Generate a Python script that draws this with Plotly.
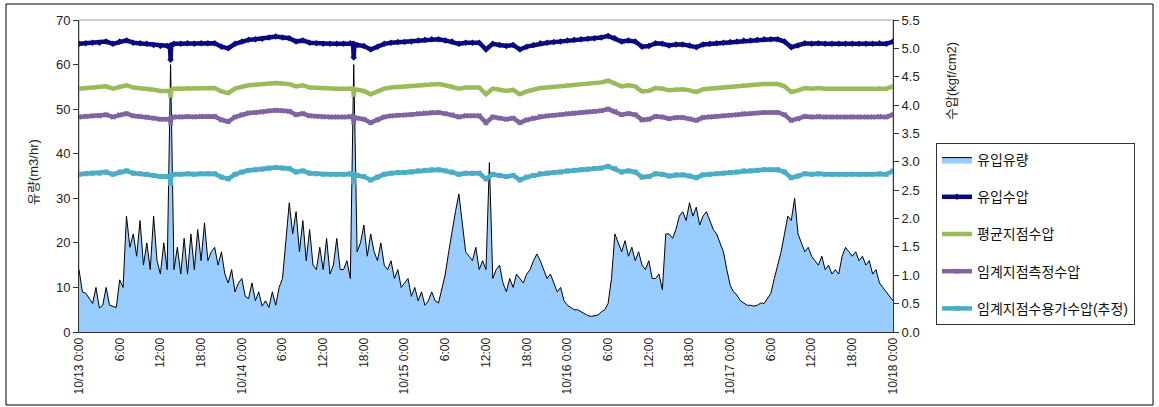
import pandas as pd
import plotly.graph_objects as go

# ---------------- data ----------------
start = pd.Timestamp("2009-10-13 00:00")

# flow (m3/hr), every 30 minutes from 10/13 0:00 to 10/18 0:00
flow_values = [
    14, 9, 8.7, 7.5, 6.4, 10, 5.4, 6, 10, 6, 5.8, 5.5, 11.7, 10, 26, 19, 22, 17, 25, 15,
    20, 14, 26, 16, 13, 20, 14, 60, 14, 19, 13, 21, 13, 22, 14, 23, 16, 24.5, 16, 18,
    19, 15, 18, 13, 11, 14, 9, 11, 12, 8, 7.5, 11, 7, 9, 5.8, 7, 5.5, 9, 6, 10,
    12, 21, 29, 22, 27, 18, 25, 16, 23, 15, 14, 19, 14, 21, 13, 15, 21, 14, 14, 16,
    12, 60, 18, 20, 24, 17, 22, 18, 16, 20, 15, 14, 16, 12, 14, 10, 11, 12, 8, 10,
    7, 9, 6, 7, 9, 7, 6.5, 10, 13, 18, 23, 27, 31, 24, 18, 17, 16, 19, 14, 16,
    14, 38, 12, 14, 15, 11, 9, 12, 10, 13, 12, 11, 13, 14, 16, 17.5, 16, 14, 12, 13,
    11, 9, 10, 7, 6, 5.5, 5, 5, 4.5, 4, 3.7, 3.5, 3.6, 3.8, 4.5, 5, 6.4, 12, 22, 20,
    18, 20.5, 17, 19, 16, 18, 15, 14, 16, 12, 12, 13, 9.5, 22, 22, 21, 23, 26, 27, 25,
    29, 26, 28, 24, 26, 27, 25, 23, 22, 20, 18, 14, 10.5, 9, 8.3, 7, 6.4, 6, 6, 5.8,
    6, 6.5, 6.4, 7.5, 8.7, 12, 15, 18, 22, 26, 25, 30, 22, 20, 18, 19, 17, 16, 15, 17,
    14, 15, 13, 14, 13, 17, 19, 18, 17, 18, 16, 17, 15, 16, 13, 14, 11, 10, 9, 8,
    7,
]
flow_hours = [i * 0.5 for i in range(len(flow_values))]

# pressures (kgf/cm2), hourly plus the two short dips
p_hours = (list(range(0, 14)) + [13.4, 13.5, 13.6] + list(range(14, 41))
           + [40.4, 40.5, 40.6] + list(range(41, 121)))

inlet_p = [
    5.08, 5.09, 5.10, 5.10, 5.12, 5.08, 5.12, 5.14, 5.10, 5.09, 5.08, 5.06, 5.04, 5.04,
    5.04, 4.80, 5.06,
    5.08, 5.08, 5.09, 5.08, 5.09, 5.09, 5.09, 5.03, 5.00, 5.08,
    5.12, 5.15, 5.16, 5.17, 5.19, 5.21, 5.19, 5.18, 5.12, 5.14,
    5.10, 5.09, 5.08, 5.08, 5.08, 5.08, 5.09,
    5.08, 4.84, 5.07,
    5.06, 5.04, 4.98, 5.03, 5.08, 5.10, 5.11, 5.11, 5.12, 5.14, 5.15, 5.16, 5.16, 5.14, 5.12, 5.08, 5.10, 5.10, 5.10,
    4.98, 5.08, 5.06, 5.04, 5.06, 4.98, 5.03, 5.06, 5.09, 5.10,
    5.11, 5.12, 5.14, 5.15, 5.16, 5.17, 5.18, 5.19, 5.22, 5.18,
    5.12, 5.14, 5.12, 5.03, 5.04, 5.09, 5.08, 5.05, 5.07, 5.07,
    5.05, 5.02, 5.07, 5.08, 5.09, 5.10, 5.11, 5.12, 5.14, 5.14,
    5.15, 5.16, 5.16, 5.16, 5.12, 5.02, 5.05, 5.09, 5.08, 5.09,
    5.08, 5.08, 5.08, 5.08, 5.08, 5.08, 5.08, 5.08, 5.09, 5.08,
    5.12,
]

avg_p = [
    4.29, 4.30, 4.31, 4.31, 4.33, 4.29, 4.33, 4.35, 4.31, 4.30, 4.29, 4.27, 4.25, 4.25,
    4.25, 4.15, 4.27,
    4.29, 4.29, 4.30, 4.29, 4.30, 4.30, 4.30, 4.24, 4.21, 4.29,
    4.33, 4.35, 4.36, 4.37, 4.38, 4.39, 4.38, 4.37, 4.33, 4.35,
    4.31, 4.30, 4.29, 4.29, 4.29, 4.29, 4.30,
    4.29, 4.17, 4.28,
    4.27, 4.25, 4.19, 4.24, 4.29, 4.31, 4.32, 4.32, 4.33, 4.35, 4.36, 4.37, 4.37, 4.35, 4.33, 4.29, 4.31, 4.31, 4.31,
    4.19, 4.29, 4.27, 4.25, 4.27, 4.19, 4.24, 4.27, 4.30, 4.31,
    4.32, 4.33, 4.35, 4.36, 4.37, 4.38, 4.39, 4.40, 4.43, 4.39,
    4.33, 4.35, 4.33, 4.24, 4.25, 4.30, 4.29, 4.26, 4.28, 4.28,
    4.26, 4.23, 4.28, 4.29, 4.30, 4.31, 4.32, 4.33, 4.35, 4.35,
    4.36, 4.37, 4.37, 4.37, 4.33, 4.23, 4.26, 4.30, 4.29, 4.30,
    4.29, 4.29, 4.29, 4.29, 4.29, 4.29, 4.29, 4.29, 4.30, 4.29,
    4.33,
]

crit_meas_p = [
    3.79, 3.80, 3.81, 3.81, 3.83, 3.79, 3.83, 3.85, 3.81, 3.80, 3.79, 3.77, 3.75, 3.75,
    3.75, 3.68, 3.77,
    3.79, 3.79, 3.80, 3.79, 3.80, 3.80, 3.80, 3.74, 3.71, 3.79,
    3.83, 3.86, 3.87, 3.88, 3.90, 3.91, 3.90, 3.89, 3.83, 3.85,
    3.81, 3.80, 3.79, 3.79, 3.79, 3.79, 3.80,
    3.79, 3.70, 3.78,
    3.77, 3.75, 3.69, 3.74, 3.79, 3.81, 3.82, 3.82, 3.83, 3.85, 3.86, 3.87, 3.87, 3.85, 3.83, 3.79, 3.81, 3.81, 3.81,
    3.69, 3.79, 3.77, 3.75, 3.77, 3.69, 3.74, 3.77, 3.80, 3.81,
    3.82, 3.83, 3.85, 3.86, 3.87, 3.88, 3.89, 3.90, 3.93, 3.89,
    3.83, 3.85, 3.83, 3.74, 3.75, 3.80, 3.79, 3.76, 3.78, 3.78,
    3.76, 3.73, 3.78, 3.79, 3.80, 3.81, 3.82, 3.83, 3.85, 3.85,
    3.86, 3.87, 3.87, 3.87, 3.83, 3.73, 3.76, 3.80, 3.79, 3.80,
    3.79, 3.79, 3.79, 3.79, 3.79, 3.79, 3.79, 3.79, 3.80, 3.79,
    3.83,
]

crit_cust_p = [
    2.78, 2.79, 2.80, 2.80, 2.82, 2.78, 2.82, 2.84, 2.80, 2.79, 2.78, 2.76, 2.74, 2.74,
    2.74, 2.62, 2.76,
    2.78, 2.78, 2.79, 2.78, 2.79, 2.79, 2.79, 2.73, 2.70, 2.78,
    2.82, 2.85, 2.86, 2.87, 2.89, 2.90, 2.89, 2.88, 2.82, 2.84,
    2.80, 2.79, 2.78, 2.78, 2.78, 2.78, 2.79,
    2.78, 2.64, 2.77,
    2.76, 2.74, 2.68, 2.73, 2.78, 2.80, 2.81, 2.81, 2.82, 2.84, 2.85, 2.86, 2.86, 2.84, 2.82, 2.78, 2.80, 2.80, 2.80,
    2.70, 2.78, 2.76, 2.74, 2.76, 2.68, 2.73, 2.76, 2.79, 2.80,
    2.81, 2.82, 2.84, 2.85, 2.86, 2.87, 2.88, 2.89, 2.92, 2.88,
    2.82, 2.84, 2.82, 2.73, 2.74, 2.79, 2.78, 2.75, 2.77, 2.77,
    2.75, 2.72, 2.77, 2.78, 2.79, 2.80, 2.81, 2.82, 2.84, 2.84,
    2.85, 2.86, 2.86, 2.86, 2.82, 2.72, 2.75, 2.79, 2.78, 2.79,
    2.78, 2.78, 2.78, 2.78, 2.78, 2.78, 2.78, 2.78, 2.79, 2.78,
    2.84,
]

tick_hours = list(range(0, 121, 6))
tick_labels = []
for h in tick_hours:
    t = start + pd.Timedelta(hours=h)
    if h % 24 == 0:
        tick_labels.append(f"{t.month}/{t.day} 0:00")
    else:
        tick_labels.append(f"{t.hour}:00")

series_names = ["유입유량", "유입수압", "평균지점수압", "임계지점측정수압", "임계지점수용가수압(추정)"]

# ---------------- figure ----------------
def to_time(hours):
    return [start + pd.Timedelta(hours=h) for h in hours]

FONT = "Liberation Sans, Arial, Noto Sans CJK KR, sans-serif"

fig = go.Figure()

fig.add_trace(go.Scatter(
    x=to_time(flow_hours), y=flow_values, name=series_names[0], mode="lines",
    line=dict(color="#000000", width=1), fill="tozeroy", fillcolor="#99CCFF",
    yaxis="y", legendgroup="g0",
))

p_specs = [
    (inlet_p, series_names[1], "#0A0A80", "diamond"),
    (avg_p, series_names[2], "#9BBB59", "triangle-up"),
    (crit_meas_p, series_names[3], "#8064A2", "x"),
    (crit_cust_p, series_names[4], "#4BACC6", "square"),
]
for i, (vals, nm, col, sym) in enumerate(p_specs):
    fig.add_trace(go.Scatter(
        x=to_time(p_hours), y=vals, name=nm, mode="lines+markers",
        line=dict(color=col, width=4.5),
        marker=dict(color=col, symbol=sym, size=5),
        yaxis="y2", legendgroup=f"g{i+1}",
    ))

W, H = 1159, 407
L, R, T, B = 79, W - 893, 20, H - 332
pw, ph = W - L - R, H - T - B

def px_x(x):
    return (x - L) / pw

def px_y(y):
    return (H - B - y) / ph

fig.update_layout(
    width=W, height=H,
    margin=dict(l=L, r=R, t=T, b=B, autoexpand=False),
    paper_bgcolor="white", plot_bgcolor="white",
    font=dict(family=FONT, size=12, color="#222222"),
    showlegend=True,
    legend=dict(
        x=px_x(936), y=px_y(143), xanchor="left", yanchor="top",
        bordercolor="#333333", borderwidth=1, bgcolor="white",
        traceorder="grouped", tracegroupgap=16,
        font=dict(family=FONT, size=14, color="#111111"),
        itemwidth=30,
    ),
    xaxis=dict(
        range=[start, start + pd.Timedelta(hours=120)],
        tickvals=to_time(tick_hours), ticktext=tick_labels, tickangle=-90,
        showgrid=False, zeroline=False, showline=True, linecolor="#333333", linewidth=1,
        ticks="", tickfont=dict(size=12, color="#222222"), automargin=False,
    ),
    yaxis=dict(
        range=[0, 70], dtick=10, showgrid=False, zeroline=False,
        showline=True, linecolor="#333333", linewidth=1,
        ticks="outside", ticklen=5, tickcolor="#333333",
        tickfont=dict(size=13, color="#222222"), automargin=False,
    ),
    yaxis2=dict(
        range=[0, 5.5], dtick=0.5, tickformat=".1f", overlaying="y", side="right",
        showgrid=False, zeroline=False, showline=True, linecolor="#333333", linewidth=1,
        ticks="outside", ticklen=5, tickcolor="#333333",
        tickfont=dict(size=13, color="#222222"), automargin=False,
    ),
    shapes=[
        dict(type="rect", xref="paper", yref="paper", x0=0, x1=1, y0=0, y1=1,
             line=dict(color="#A0A0A0", width=1), layer="below"),
        dict(type="rect", xref="paper", yref="paper",
             x0=px_x(6), x1=px_x(1153), y0=px_y(405), y1=px_y(4),
             line=dict(color="#000000", width=1)),
    ],
    annotations=[
        dict(text="유량(m3/hr)", xref="paper", yref="paper", x=px_x(33), y=px_y(172),
             xanchor="center", yanchor="middle",
             showarrow=False, textangle=-90, font=dict(size=13, color="#222222")),
        dict(text="수압(kgf/cm2)", xref="paper", yref="paper", x=px_x(951), y=px_y(81),
             xanchor="center", yanchor="middle",
             showarrow=False, textangle=-90, font=dict(size=13, color="#222222")),
    ],
)

fig.write_html("out.html", config={"displayModeBar": False},
               post_script="document.body.style.margin='0px';")
